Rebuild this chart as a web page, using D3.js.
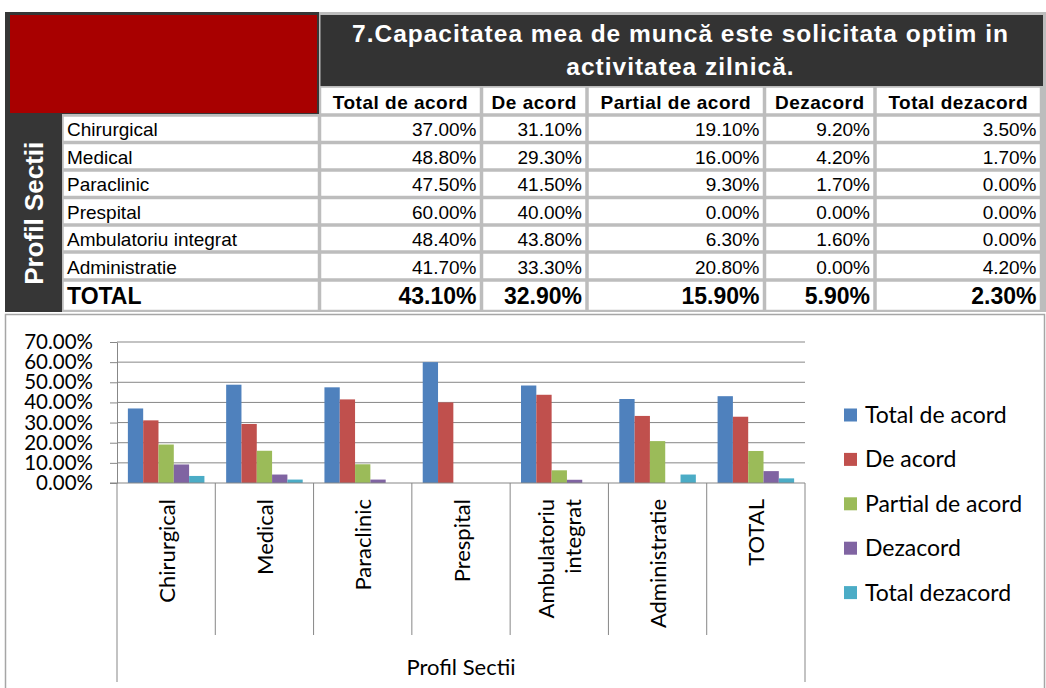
<!DOCTYPE html>
<html>
<head>
<meta charset="utf-8">
<title>Capacitatea mea de muncă este solicitata optim</title>
<script src="https://cdn.jsdelivr.net/npm/d3@7/dist/d3.min.js"></script>
<style>
  body { margin: 0; background: #fff; }
  svg { display: block; }
  .tbl text { font-family: "Liberation Sans", Arial, sans-serif; }
  .chart text { font-family: Lato, "Noto Sans", sans-serif; fill: #000; }
  .chart .axis path, .chart .axis line { stroke: #878787; }
</style>
</head>
<body>
<script>
// data
var categories = ["Chirurgical", "Medical", "Paraclinic", "Prespital", "Ambulatoriu integrat", "Administratie", "TOTAL"];
var seriesNames = ["Total de acord", "De acord", "Partial de acord", "Dezacord", "Total dezacord"];
var totalDeAcord   = [37.0, 48.8, 47.5, 60.0, 48.4, 41.7, 43.1];
var deAcord        = [31.1, 29.3, 41.5, 40.0, 43.8, 33.3, 32.9];
var partialDeAcord = [19.1, 16.0,  9.3,  0.0,  6.3, 20.8, 15.9];
var dezacord       = [ 9.2,  4.2,  1.7,  0.0,  1.6,  0.0,  5.9];
var totalDezacord  = [ 3.5,  1.7,  0.0,  0.0,  0.0,  4.2,  2.3];
var yTicks = [0, 10, 20, 30, 40, 50, 60, 70];
var axisLabelLines = [["Chirurgical"], ["Medical"], ["Paraclinic"], ["Prespital"], ["Ambulatoriu", "integrat"], ["Administratie"], ["TOTAL"]];
var titleLines = ["7.Capacitatea mea de muncă este solicitata optim in", "activitatea zilnică."];
var sideLabel = "Profil Sectii";
var axisTitle = "Profil Sectii";

var seriesValues = [totalDeAcord, deAcord, partialDeAcord, dezacord, totalDezacord];
var colors = ["#4F81BD", "#C0504D", "#9BBB59", "#8064A2", "#4BACC6"];

var width = 1046, height = 688;
var svg = d3.select("body").append("svg")
    .attr("width", width)
    .attr("height", height);

// ---------- table ----------
var tbl = svg.append("g").attr("class", "tbl");
var colEdges = [62, 319.5, 481.5, 587, 764.5, 875, 1041.5];
var rowEdges = [86, 115, 142.5, 170, 197.5, 225, 252, 280, 311.5];
var gap = 1.75;

tbl.append("rect").attr("x", 5).attr("y", 12).attr("width", 1041).attr("height", 300).attr("fill", "#363636");
tbl.append("rect").attr("x", 319).attr("y", 12).attr("width", 727).attr("height", 300).attr("fill", "#bdbdbd");
tbl.append("rect").attr("x", 62).attr("y", 114).attr("width", 258).attr("height", 198).attr("fill", "#bdbdbd");
tbl.append("rect").attr("x", 320.5).attr("y", 15).attr("width", 722.5).attr("height", 71).attr("fill", "#333333");
tbl.append("rect").attr("x", 10).attr("y", 15).attr("width", 307).attr("height", 98).attr("fill", "#a80000");

// title
tbl.selectAll(".title").data(titleLines).enter().append("text")
    .attr("class", "title")
    .attr("x", (colEdges[1] + colEdges[6]) / 2)
    .attr("y", function(d, i) { return 42 + i * 33; })
    .attr("text-anchor", "middle")
    .attr("font-weight", "bold")
    .attr("font-size", 24.5)
    .attr("letter-spacing", 1)
    .attr("fill", "#fff")
    .text(function(d) { return d; });

// side label
tbl.append("text")
    .attr("transform", "translate(43," + ((rowEdges[1] + rowEdges[8]) / 2) + ") rotate(-90)")
    .attr("text-anchor", "middle")
    .attr("font-weight", "bold")
    .attr("font-size", 26)
    .attr("fill", "#fff")
    .text(sideLabel);

// header cells
seriesNames.forEach(function(name, j) {
  var x0 = colEdges[j + 1], x1 = colEdges[j + 2];
  tbl.append("rect")
      .attr("x", x0 + gap).attr("y", rowEdges[0] + gap)
      .attr("width", x1 - x0 - 2 * gap).attr("height", rowEdges[1] - rowEdges[0] - 2 * gap)
      .attr("fill", "#fff");
  tbl.append("text")
      .attr("x", (x0 + x1) / 2).attr("y", rowEdges[1] - 6.5)
      .attr("text-anchor", "middle")
      .attr("font-weight", "bold")
      .attr("font-size", 19)
      .attr("letter-spacing", 0.5)
      .text(name);
});

// body rows
categories.forEach(function(cat, i) {
  var y0 = rowEdges[i + 1], y1 = rowEdges[i + 2];
  var isTotal = (i === categories.length - 1);
  for (var c = 0; c < 6; c++) {
    tbl.append("rect")
        .attr("x", colEdges[c] + gap).attr("y", y0 + gap)
        .attr("width", colEdges[c + 1] - colEdges[c] - 2 * gap).attr("height", y1 - y0 - 2 * gap)
        .attr("fill", "#fff");
  }
  tbl.append("text")
      .attr("x", colEdges[0] + 5).attr("y", y1 - (isTotal ? 7.5 : 6.5))
      .attr("font-weight", isTotal ? "bold" : "normal")
      .attr("font-size", isTotal ? 23 : 19)
      .text(cat);
  seriesValues.forEach(function(vals, j) {
    tbl.append("text")
        .attr("x", colEdges[j + 2] - 5).attr("y", y1 - (isTotal ? 7.5 : 6.5))
        .attr("text-anchor", "end")
        .attr("font-weight", isTotal ? "bold" : "normal")
        .attr("font-size", isTotal ? 23 : 19)
        .text(vals[i].toFixed(2) + "%");
  });
});

// ---------- chart ----------
var chart = svg.append("g").attr("class", "chart");
chart.append("rect")
    .attr("x", 5.5).attr("y", 314.5).attr("width", 1039).attr("height", 380)
    .attr("fill", "#fff").attr("stroke", "#a6a6a6").attr("stroke-width", 1.5);

var y = d3.scaleLinear().domain([0, 70]).range([483, 342]);
var x0 = d3.scaleBand().domain(categories).range([117, 805]);
var x1 = d3.scaleBand().domain(seriesNames).range([0, x0.bandwidth()]).paddingOuter(0.71);

// gridlines
chart.selectAll(".grid").data(yTicks.slice(1)).enter().append("line")
    .attr("x1", 117).attr("x2", 805)
    .attr("y1", function(d) { return y(d); }).attr("y2", function(d) { return y(d); })
    .attr("stroke", "#878787");

// bars
var groups = chart.selectAll(".grp").data(categories).enter().append("g")
    .attr("transform", function(d) { return "translate(" + x0(d) + ",0)"; });
groups.selectAll("rect")
    .data(function(d, i) { return seriesNames.map(function(s, j) { return { s: s, v: seriesValues[j][i], c: colors[j] }; }); })
    .enter().append("rect")
    .attr("x", function(d) { return x1(d.s); })
    .attr("y", function(d) { return y(d.v); })
    .attr("width", x1.bandwidth())
    .attr("height", function(d) { return y(0) - y(d.v); })
    .attr("fill", function(d) { return d.c; });

// y axis
chart.append("g")
    .attr("class", "axis")
    .attr("transform", "translate(117,0)")
    .call(d3.axisLeft(y).tickValues(yTicks).tickSize(7).tickSizeOuter(0).tickPadding(17)
        .tickFormat(function(d) { return d.toFixed(2) + "%"; }))
    .selectAll("text").attr("font-size", 20.5).attr("fill", "#000");

// x axis line and category dividers
chart.append("line").attr("class", "xline")
    .attr("x1", 110).attr("x2", 805).attr("y1", y(0)).attr("y2", y(0))
    .attr("stroke", "#878787");
var bounds = categories.map(function(c) { return x0(c); }).concat([x0.range()[1]]);
chart.selectAll(".div").data(bounds).enter().append("line")
    .attr("x1", function(d) { return d; }).attr("x2", function(d) { return d; })
    .attr("y1", y(0))
    .attr("y2", function(d, i) { return (i === 0 || i === bounds.length - 1) ? 682 : 635; })
    .attr("stroke", "#878787");

// category labels
categories.forEach(function(cat, i) {
  var lines = axisLabelLines[i];
  var t = chart.append("text")
      .attr("transform", "translate(" + (x0(cat) + x0.bandwidth() / 2 + 1) + ",499) rotate(-90)")
      .attr("text-anchor", "end")
      .attr("font-size", 22);
  lines.forEach(function(l, k) {
    t.append("tspan")
        .attr("x", 0)
        .attr("dy", k === 0 ? (7.5 - (lines.length - 1) * 13.5) : 27)
        .text(l);
  });
});

chart.append("text")
    .attr("x", (x0.range()[0] + x0.range()[1]) / 2)
    .attr("y", 675)
    .attr("text-anchor", "middle")
    .attr("font-size", 22)
    .text(axisTitle);

// legend
var legend = chart.selectAll(".leg").data(seriesNames).enter().append("g")
    .attr("transform", function(d, i) { return "translate(844," + (415 + i * 44.4) + ")"; });
legend.append("rect").attr("x", 0).attr("y", -6.5).attr("width", 13).attr("height", 13)
    .attr("fill", function(d, i) { return colors[i]; });
legend.append("text").attr("x", 21).attr("dy", "0.35em").attr("font-size", 23)
    .text(function(d) { return d; });
</script>
</body>
</html>
